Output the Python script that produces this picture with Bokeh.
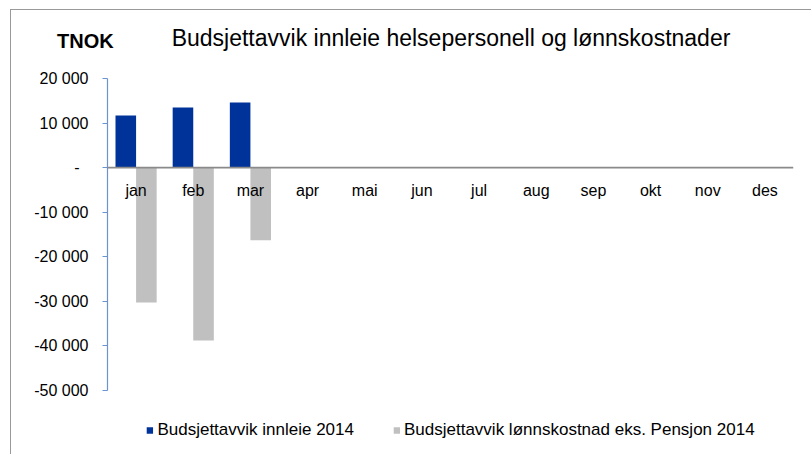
import math
from bokeh.plotting import figure
from bokeh.models import (ColumnDataSource, FactorRange, Range1d, FixedTicker,
                          Span, Legend, LegendItem, Div)
from bokeh.layouts import column
from bokeh.transform import dodge
from bokeh.core.properties import value
from bokeh.embed import file_html
from bokeh.resources import INLINE

NAN = float("nan")

# ---- data ----
months = ["jan", "feb", "mar", "apr", "mai", "jun", "jul", "aug", "sep", "okt", "nov", "des"]
innleie_2014 = [11700, 13500, 14600, NAN, NAN, NAN, NAN, NAN, NAN, NAN, NAN, NAN]
lonn_2014 = [-30300, -38800, -16300, NAN, NAN, NAN, NAN, NAN, NAN, NAN, NAN, NAN]
y_ticks = [20000, 10000, 0, -10000, -20000, -30000, -40000, -50000]
y_tick_labels = ["20 000", "10 000", "-\u2007", "-10 000", "-20 000", "-30 000", "-40 000", "-50 000"]
series_names = ["Budsjettavvik innleie 2014", "Budsjettavvik lønnskostnad eks. Pensjon 2014"]
title_text = "Budsjettavvik innleie helsepersonell og lønnskostnader"
unit_text = "TNOK"

# ---- style ----
FONT = "Liberation Sans"
BLUE = "#003399"
GRAY = "#c0c0c0"
AXIS_BLUE = "#6a93d0"
HEADER_H = 50

src = ColumnDataSource(dict(month=months, innleie=innleie_2014, lonn=lonn_2014,
                            lab_y=[-5200] * len(months)))

p = figure(width=800, height=444 - HEADER_H,
           x_range=FactorRange(*months, range_padding=0),
           y_range=Range1d(-64400, 20000),
           x_axis_location=None,
           output_backend="svg", toolbar_location=None,
           min_border_left=96, min_border_top=68 - HEADER_H, min_border_right=18,
           min_border_bottom=0)
p.margin = 0

r1 = p.vbar(x=dodge("month", -0.18, range=p.x_range), top="innleie", bottom=0, width=0.36,
            source=src, fill_color=BLUE, line_color=None)
r2 = p.vbar(x=dodge("month", 0.18, range=p.x_range), top="lonn", bottom=0, width=0.36,
            source=src, fill_color=GRAY, line_color=None)

p.add_layout(Span(location=0, dimension="width", line_color="#8a8a8a", line_width=1.6))

p.text(x="month", y="lab_y", text="month", source=src, text_align="center",
       text_baseline="middle", text_font=value(FONT), text_font_size="16px", text_color="#000000")

ax = p.yaxis[0]
ax.ticker = FixedTicker(ticks=y_ticks)
ax.major_label_overrides = {t: l for t, l in zip(y_ticks, y_tick_labels)}
ax.bounds = (min(y_ticks), max(y_ticks))
ax.axis_line_color = AXIS_BLUE
ax.axis_line_width = 1.2
ax.major_tick_line_color = AXIS_BLUE
ax.major_tick_out = 5
ax.major_tick_in = 0
ax.minor_tick_line_color = None
ax.major_label_standoff = 14
ax.major_label_text_font = FONT
ax.major_label_text_font_size = "16px"
ax.major_label_text_color = "#000000"

p.xgrid.grid_line_color = None
p.ygrid.grid_line_color = None
p.outline_line_color = None
p.title.visible = False

legend = Legend(items=[LegendItem(label=series_names[0], renderers=[r1]),
                       LegendItem(label=series_names[1], renderers=[r2])],
                location="bottom_center", orientation="horizontal",
                glyph_width=8, glyph_height=8, label_standoff=4, spacing=38,
                margin=14, padding=5,
                label_text_font=FONT, label_text_font_size="17px", label_text_color="#000000",
                border_line_color=None, background_fill_alpha=0)
p.add_layout(legend)

header_html = (
    f'<div style="position:relative;width:800px;height:{HEADER_H}px;'
    f"font-family:'{FONT}';color:#000;\">"
    f'<span style="position:absolute;left:46px;top:21px;font-size:20px;line-height:20px;'
    f'font-weight:bold;white-space:nowrap;">{unit_text}</span>'
    f'<span style="position:absolute;left:440px;top:17px;font-size:23px;line-height:23px;'
    f'transform:translateX(-50%);white-space:nowrap;">{title_text}</span>'
    '</div>'
)
header = Div(text=header_html, width=800, height=HEADER_H, margin=0)

layout = column(header, p, spacing=0)
layout.margin = (9, 0, 0, 10)
layout.styles = {"border-left": "1px solid #999999", "border-top": "1px solid #999999"}

open("out.html", "w").write(file_html(layout, INLINE))
